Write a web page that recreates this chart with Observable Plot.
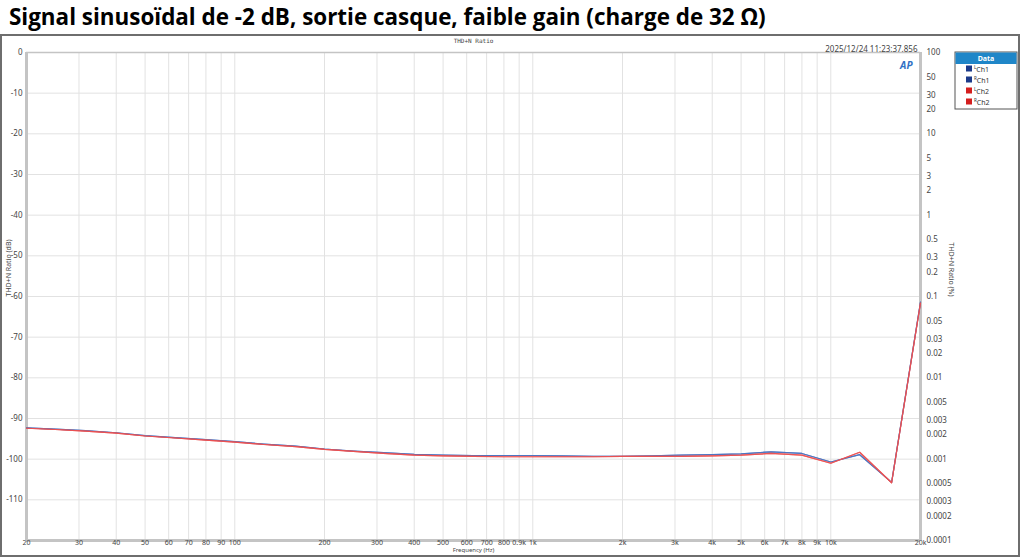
<!DOCTYPE html>
<html><head><meta charset="utf-8">
<script src="https://cdn.jsdelivr.net/npm/d3@7"></script>
<script src="https://cdn.jsdelivr.net/npm/@observablehq/plot@0.6"></script>
<style>
html,body{margin:0;padding:0;background:#fff;}
#wrap{position:relative;width:1020px;height:557px;overflow:hidden;}
#title{height:34px;padding-left:9px;font-family:"Open Sans",sans-serif;font-weight:700;font-size:21px;line-height:34px;color:#000;white-space:nowrap;}
#border{position:absolute;left:0;top:34px;width:1016px;height:519px;border:2px solid #6e6e6e;pointer-events:none;}
</style></head>
<body><div id="wrap"><div id="title"><span id="tt">Signal sinusoïdal de -2 dB, sortie casque, faible gain (charge de 32 Ω)</span></div><div id="chart"></div><div id="border"></div></div>
<script>
const freqs = [20,25,31.5,40,50,63,80,100,125,160,200,250,315,400,500,630,800,1000,1250,1600,2000,2500,3150,4000,5000,6300,8000,10000,12500,16000,20000];
const ch1L = [-92.3,-92.6,-93.0,-93.5,-94.2,-94.7,-95.2,-95.7,-96.3,-96.8,-97.5,-98.0,-98.4,-98.8,-99.0,-99.1,-99.1,-99.1,-99.2,-99.3,-99.3,-99.2,-99.0,-98.9,-98.7,-98.2,-98.6,-100.7,-98.9,-105.7,-61.4];
const ch1R = [-92.3,-92.6,-93.0,-93.5,-94.2,-94.7,-95.2,-95.7,-96.3,-96.8,-97.5,-98.0,-98.4,-98.8,-99.0,-99.1,-99.1,-99.1,-99.2,-99.3,-99.3,-99.2,-99.0,-98.9,-98.7,-98.2,-98.6,-100.7,-98.9,-105.7,-61.4];
const ch2L = [-92.4,-92.7,-93.1,-93.6,-94.3,-94.8,-95.3,-95.8,-96.4,-96.9,-97.6,-98.1,-98.6,-99.0,-99.2,-99.3,-99.4,-99.4,-99.4,-99.4,-99.3,-99.3,-99.3,-99.2,-99.0,-98.6,-99.0,-101.0,-98.3,-105.8,-61.6];
const ch2R = [-92.4,-92.7,-93.1,-93.6,-94.3,-94.8,-95.3,-95.8,-96.4,-96.9,-97.6,-98.1,-98.6,-99.0,-99.2,-99.3,-99.4,-99.4,-99.4,-99.4,-99.3,-99.3,-99.3,-99.2,-99.0,-98.6,-99.0,-101.0,-98.3,-105.8,-61.6];
const seriesNames = ["L|Ch1","R|Ch1","L|Ch2","R|Ch2"];
const seriesColors = ["#4a72c0","#4a72c0","#ec5050","#ec5050"];
const legendColors = ["#1b3a8a","#1b3a8a","#d41e1e","#d41e1e"];
const xTicks = [20,30,40,50,60,70,80,90,100,200,300,400,500,600,700,800,900,1000,2000,3000,4000,5000,6000,7000,8000,9000,10000,20000];
const xLabels = ["20","30","40","50","60","70","80","90","100","200","300","400","500","600","700","800","0.9k","1k","2k","3k","4k","5k","6k","7k","8k","9k","10k","20k"];
const yTicks = [0,-10,-20,-30,-40,-50,-60,-70,-80,-90,-100,-110];
const yGrid = [0,-10,-20,-30,-40,-50,-60,-70,-80,-90,-100,-110,-120];
const pctTicks = [100,50,30,20,10,5,3,2,1,0.5,0.3,0.2,0.1,0.05,0.03,0.02,0.01,0.005,0.003,0.002,0.001,0.0005,0.0003,0.0002,0.0001];
const pctLabels = ["100","50","30","20","10","5","3","2","1","0.5","0.3","0.2","0.1","0.05","0.03","0.02","0.01","0.005","0.003","0.002","0.001","0.0005","0.0003","0.0002","0.0001"];

// fit title width
(function(){const t=document.getElementById("tt");const w=t.getBoundingClientRect().width;const target=757;const fs=21*target/w;t.style.fontSize=fs.toFixed(2)+"px";})();

const allSeries = [ch1L,ch1R,ch2L,ch2R];
const data = [];
allSeries.forEach((vals,si)=>vals.forEach((v,i)=>data.push({f:freqs[i],db:v,s:seriesNames[si]})));
const pctData = pctTicks.map((p,i)=>({db:20*Math.log10(p/100),label:pctLabels[i]}));
const xData = xTicks.map((f,i)=>({f,label:xLabels[i]}));

const W=1020,H=523,mL=26,mR=100,mT=18,mB=17;
const font = "'Noto Sans', 'DejaVu Sans', sans-serif";
const plot = Plot.plot({
  width:W,height:H,marginLeft:mL,marginRight:mR,marginTop:mT,marginBottom:mB,
  style:{fontFamily:font,fontSize:"8px",color:"#444",background:"transparent",overflow:"visible"},
  x:{type:"log",domain:[20,20000],axis:null,label:null},
  y:{domain:[-120,0],axis:null,label:null},
  color:{domain:seriesNames,range:seriesColors},
  marks:[
    Plot.ruleX(xTicks,{stroke:"#e2e2e2",strokeWidth:1}),
    Plot.ruleY(yGrid,{stroke:"#e2e2e2",strokeWidth:1}),
    Plot.ruleY([0],{stroke:"#c4c4c4",strokeWidth:1.5}),
    Plot.ruleY([-120],{stroke:"#c4c4c4",strokeWidth:3}),
    Plot.ruleX([20,20000],{stroke:"#c4c4c4",strokeWidth:3}),
    Plot.line(data,{x:"f",y:"db",z:"s",stroke:"s",strokeWidth:1.2,strokeOpacity:0.85}),
    Plot.text(xData,{x:"f",text:"label",frameAnchor:"bottom",dy:4,fill:"#444",fontSize:7}),
    Plot.text(yTicks,{y:d=>d,text:d=>String(d),frameAnchor:"left",textAnchor:"end",dx:-4,fill:"#444",fontSize:8}),
    Plot.text(pctData,{y:"db",text:"label",frameAnchor:"right",textAnchor:"start",dx:6,fill:"#444",fontSize:8}),
    Plot.text(["Frequency (Hz)"],{frameAnchor:"bottom",dy:11.5,fill:"#444",fontSize:6}),
    Plot.text(["THD+N Ratio (dB)"],{frameAnchor:"left",dx:-18,rotate:-90,fill:"#444",fontSize:7}),
    Plot.text(["THD+N Ratio (%)"],{frameAnchor:"right",dx:31,rotate:90,fill:"#444",fontSize:7}),
    Plot.text(["THD+N Ratio"],{frameAnchor:"top",dy:-14,fill:"#444",fontSize:6,fontFamily:"'DejaVu Sans Mono', monospace"}),
    Plot.text(["2025/12/24 11:23:37.856"],{frameAnchor:"top-right",dx:-3,dy:-6,textAnchor:"end",fill:"#444",fontSize:8}),
    Plot.text(["AP"],{frameAnchor:"top-right",dx:-8,dy:9,fill:"#2f6fc4",fontSize:10,fontWeight:"bold",fontStyle:"italic"})
  ]
});
document.getElementById("chart").appendChild(plot);

// legend box
const svg = d3.select(plot);
const lg = svg.append("g").attr("transform","translate(955,18)").attr("text-anchor","start");
lg.append("rect").attr("width",62).attr("height",57).attr("fill","#fff").attr("stroke","#555").attr("stroke-width",1);
lg.append("rect").attr("x",0.5).attr("y",0.5).attr("width",61).attr("height",11.5).attr("fill","#1f86c8");
lg.append("text").attr("x",31).attr("y",9).attr("text-anchor","middle").attr("fill","#fff").attr("font-size","7px").attr("font-weight","bold").attr("font-family",font).text("Data");
seriesNames.forEach((n,i)=>{
  const [sup,name]=n.split("|");
  const y=17+i*11;
  lg.append("rect").attr("x",11).attr("y",y-3.5).attr("width",6).attr("height",6).attr("fill",legendColors[i]);
  const t=lg.append("text").attr("x",19).attr("y",y+2.5).attr("text-anchor","start").attr("font-size","7px").attr("fill","#333").attr("font-family",font);
  t.append("tspan").attr("font-size","4.5px").attr("dy",-2.5).text(sup);
  t.append("tspan").attr("dy",2.5).text(name);
});
</script></body></html>
